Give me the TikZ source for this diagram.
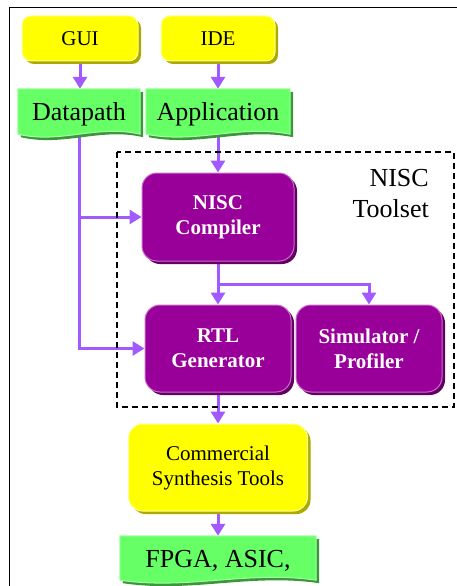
\documentclass[tikz,border=0pt]{standalone}
\usepackage{fontspec}
\setmainfont{Liberation Serif}
\usetikzlibrary{arrows.meta,shadows,calc}

\definecolor{boxyellow}{RGB}{255,255,0}
\definecolor{yshadow}{RGB}{170,170,0}
\definecolor{ylight}{RGB}{255,255,150}
\definecolor{docgreen}{RGB}{102,255,102}
\definecolor{gshadow}{RGB}{60,150,60}
\definecolor{glight}{RGB}{160,255,160}
\definecolor{toolpurple}{RGB}{153,0,153}
\definecolor{pshadow}{RGB}{100,0,100}
\definecolor{plight}{RGB}{200,110,200}
\definecolor{flow}{RGB}{160,90,255}

\pgfdeclarelayer{edges}
\pgfdeclarelayer{shapes}
\pgfsetlayers{edges,shapes,main}

% outline of a document shape (wavy bottom), offset by (#2,#3)
\newcommand\wavepath[3]{%
  ($(#1.north west)+(#2,#3)$) -- ($(#1.north east)+(#2,#3)$) --
  ($(#1.south east)+(#2,#3)$)
  .. controls ($(#1.south east)!0.35!(#1.south west)+(#2,#3-10)$)
  and ($(#1.south west)!0.35!(#1.south east)+(#2,#3+10)$) ..
  ($(#1.south west)+(#2,#3)$) -- cycle}

\tikzset{
  ybox/.style={rectangle, rounded corners=9pt, fill=boxyellow, draw=ylight,
    line width=1pt, inner sep=0pt, align=center,
    font=\fontsize{21}{25}\selectfont,
    drop shadow={shadow xshift=3pt, shadow yshift=-3pt, fill=yshadow, opacity=1}},
  pbox/.style={rectangle, rounded corners=15pt, fill=toolpurple, draw=plight,
    line width=1pt, inner sep=0pt, align=center, text=white,
    font=\bfseries\fontsize{21}{25}\selectfont,
    drop shadow={shadow xshift=3pt, shadow yshift=-3pt, fill=pshadow, opacity=1}},
  docbox/.style={rectangle, inner sep=0pt, text height=22pt, text depth=4pt,
    font=\fontsize{26}{31}\selectfont},
  flowarrow/.style={draw=flow, line width=3pt, -{Triangle[width=14pt,length=12pt]}},
  frame/.style={draw=black, line width=1.5pt},
  toolsetbox/.style={draw=black, line width=1.5pt, dash pattern=on 6pt off 4pt},
}

\begin{document}
\begin{tikzpicture}[x=1pt,y=-1pt]
\useasboundingbox (0,0) rectangle (457,586);

% outer frame
\draw[frame] (9.7,620) -- (9.7,7.3) -- (480,7.3);

% toolset boundary
\draw[toolsetbox] (117,152) rectangle (454,407);
\node[anchor=north east, inner sep=0pt, align=right,
      font=\fontsize{26}{31}\selectfont] (tslabel) at (429,169) {NISC\\Toolset};

% inputs
\node[ybox, minimum width=116pt, minimum height=45pt] (gui) at (80,38.5) {GUI};
\node[ybox, minimum width=114pt, minimum height=45pt] (ide) at (218,38.5) {IDE};

\node[docbox, minimum width=122pt, minimum height=45pt] (dp) at (79,111.5) {Datapath};
\node[docbox, minimum width=144pt, minimum height=45pt] (app) at (218,111.5) {Application};

% tools
\node[pbox, minimum width=152pt, minimum height=88pt] (comp) at (218,217) {NISC\\Compiler};
\node[pbox, minimum width=146pt, minimum height=87pt] (rtl) at (218,348.5) {RTL\\Generator};
\node[pbox, minimum width=146pt, minimum height=87pt] (sim) at (369,348.5) {Simulator /\\Profiler};

\node[ybox, rounded corners=14pt, minimum width=179pt, minimum height=87pt] (comm) at (218,467.5) {Commercial\\Synthesis Tools};
\node[docbox, minimum width=196pt, minimum height=44pt] (fpga) at (218,558) {FPGA, ASIC,};

% document shapes
\begin{pgfonlayer}{shapes}
  \foreach \d in {dp,app,fpga}{
    \fill[gshadow] \wavepath{\d}{3}{3};
    \filldraw[fill=docgreen, draw=glight, line width=1pt] \wavepath{\d}{0}{0};
  }
\end{pgfonlayer}

% connectors
\begin{pgfonlayer}{edges}
  \draw[flowarrow] (gui.south) -- (gui.south |- dp.north);
  \draw[flowarrow] (ide.south) -- (ide.south |- app.north);
  \draw[flowarrow] (app.south) -- (comp.north);
  \draw[flowarrow] (dp.south) |- (comp.west);
  \draw[flowarrow] (dp.south) |- (rtl.west);
  \coordinate (split) at ($(comp.south)+(0,23)$);
  \draw[flowarrow] (comp.south) -- (rtl.north);
  \draw[flowarrow] (split) -| (sim.north);
  \draw[flowarrow] (rtl.south) -- (comm.north);
  \draw[flowarrow] (comm.south) -- (fpga.north);
\end{pgfonlayer}
\end{tikzpicture}
\end{document}
